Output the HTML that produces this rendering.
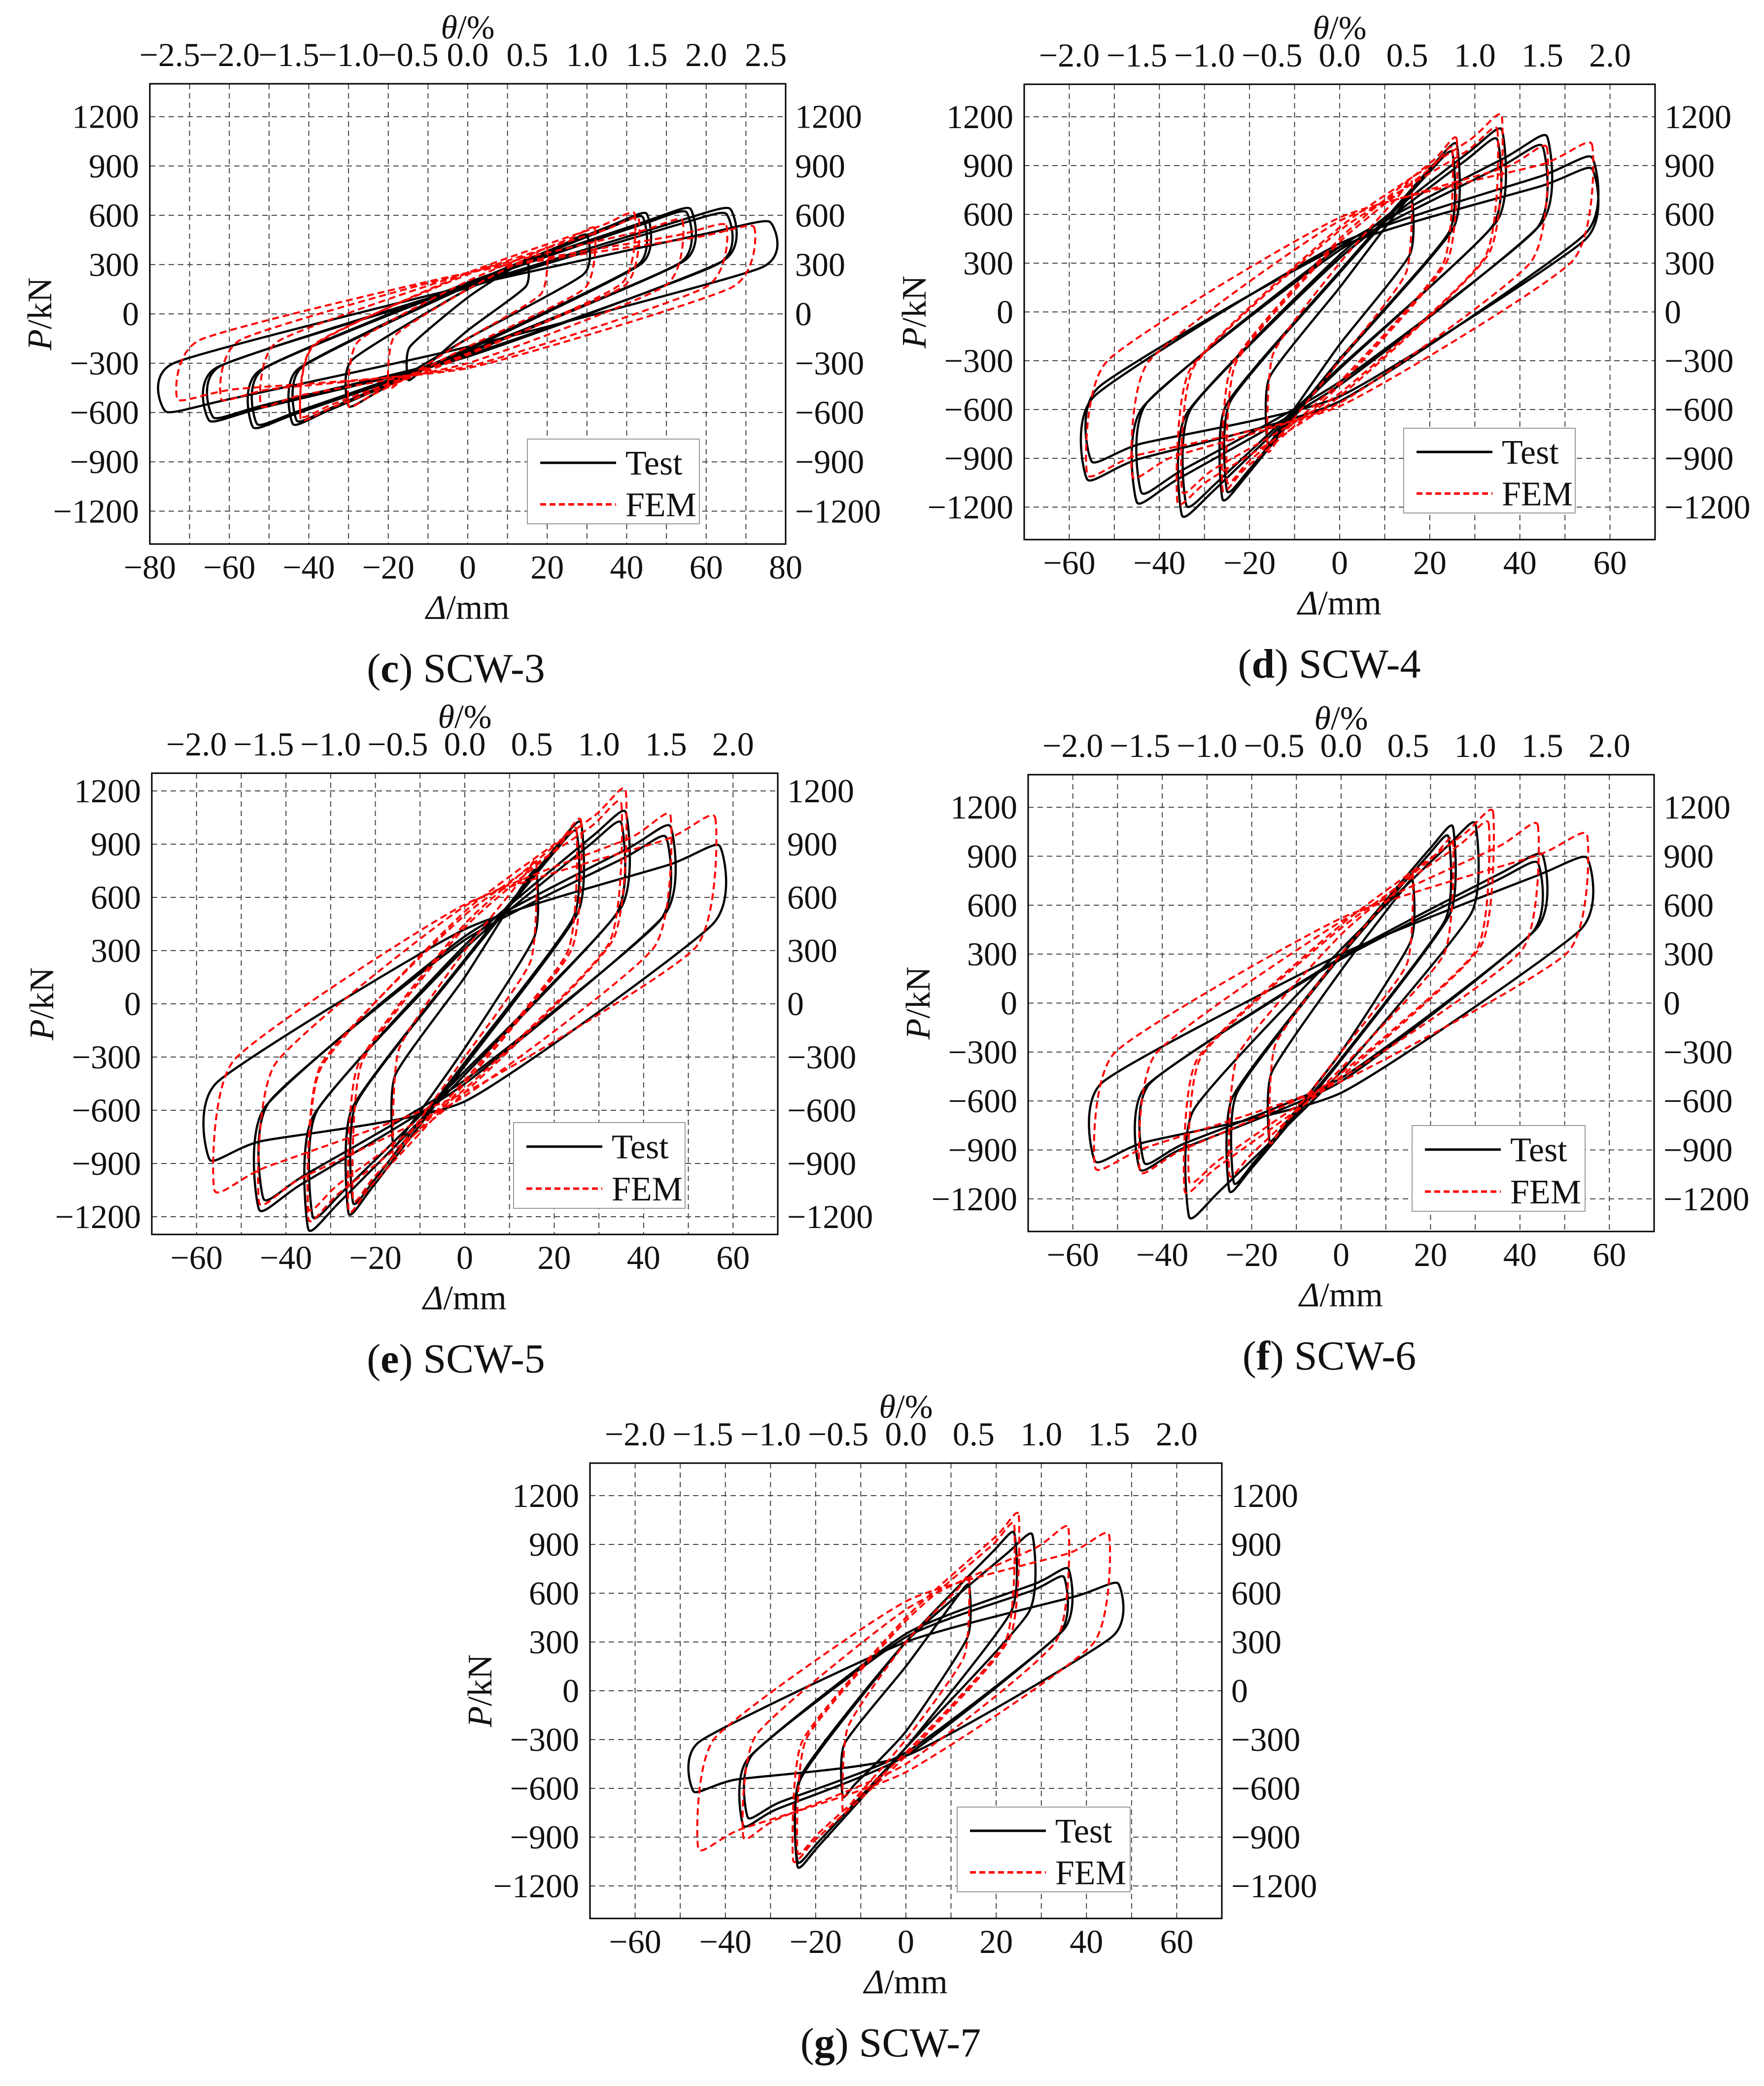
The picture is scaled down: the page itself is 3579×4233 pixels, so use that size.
<!DOCTYPE html>
<html><head><meta charset="utf-8"><title>Hysteresis curves SCW-3 to SCW-7</title>
<style>
html,body{margin:0;padding:0;background:#fff;}
svg{display:block;}
text{font-family:"Liberation Serif","DejaVu Serif",serif;fill:#111;}
</style></head>
<body>
<svg id="fig" xmlns="http://www.w3.org/2000/svg" width="3579" height="4233" viewBox="0 0 3579 4233"></svg>
<script>
// Loop data: each loop = [pos peak disp (mm), pos peak force (kN), neg peak disp, neg peak force, upper-branch force at 0, lower-branch force at 0]
const testC = [[15,330,-15,-400,100,-100],[30,480,-30,-560,150,-150],[44,590,-43,-650,170,-210],[45,610,-44,-670,180,-220],[55,620,-53,-670,180,-230],[56,640,-54,-690,190,-240],[66,640,-65,-650,170,-260],[65,610,-64,-630,160,-250],[76,560,-76,-594,170,-200]];
const femC  = [[20,400,-20,-450,150,-150],[32,520,-30,-560,200,-200],[42,610,-42,-640,250,-250],[43,580,-42,-620,240,-240],[54,570,-52,-560,250,-300],[65,540,-62,-520,250,-320],[72,530,-73,-520,250,-330]];
const testD = [[16,700,-16,-800,150,-200],[26,1030,-26,-1150,250,-300],[25,980,-25,-1100,240,-290],[36,1120,-35,-1250,350,-350],[35,1060,-34,-1190,330,-340],[46,1080,-45,-1170,400,-450],[45,1020,-44,-1110,380,-430],[56,950,-56,-1030,420,-550],[56,880,-55,-920,400,-520]];
const femD  = [[16,800,-16,-850,300,-300],[26,1060,-26,-1090,450,-450],[25,1000,-25,-1040,430,-430],[36,1200,-36,-1170,520,-520],[35,1120,-35,-1100,500,-500],[46,1010,-46,-1010,560,-560],[56,1030,-56,-1000,580,-580]];
const testE = [[16,750,-16,-800,150,-250],[26,1020,-26,-1180,250,-350],[25,970,-25,-1120,240,-330],[36,1080,-35,-1270,330,-400],[35,1020,-34,-1200,310,-380],[46,1000,-46,-1160,380,-450],[45,940,-45,-1100,360,-430],[57,890,-57,-880,420,-550]];
const femE  = [[16,800,-16,-850,300,-300],[26,1030,-26,-1160,450,-450],[25,980,-25,-1100,430,-430],[36,1200,-35,-1210,520,-500],[35,1130,-35,-1150,500,-480],[46,1060,-46,-1120,550,-520],[56,1050,-56,-1050,560,-500]];
const testF = [[16,750,-16,-850,200,-300],[25,1080,-25,-1150,300,-350],[24,1020,-24,-1100,290,-340],[30,1100,-34,-1310,330,-420],[45,910,-45,-1020,280,-480],[44,860,-44,-980,270,-460],[55,890,-55,-970,300,-550]];
const femF  = [[16,800,-16,-850,300,-300],[25,1000,-25,-1050,420,-400],[34,1170,-35,-1150,480,-450],[33,1100,-34,-1090,460,-430],[44,1090,-45,-1030,500,-460],[55,1030,-55,-1010,520,-480]];
const testG = [[14,650,-14,-650,150,-250],[24,970,-24,-1080,300,-350],[28,960,-24,-1050,300,-350],[36,750,-36,-830,350,-400],[35,700,-35,-780,330,-380],[47,660,-47,-620,300,-400]];
const femG  = [[14,700,-14,-750,300,-300],[25,1080,-25,-1040,450,-400],[24,1020,-24,-990,430,-380],[36,1000,-36,-900,500,-450],[45,960,-46,-970,550,-500]];
// Tick label arrays
const yTicks = [-1200,-900,-600,-300,0,300,600,900,1200];
const xTicksC = [-80,-60,-40,-20,0,20,40,60,80];
const xTicksOther = [-60,-40,-20,0,20,40,60];
const thetaC = [-2.5,-2.0,-1.5,-1.0,-0.5,0.0,0.5,1.0,1.5,2.0,2.5];
const thetaOther = [-2.0,-1.5,-1.0,-0.5,0.0,0.5,1.0,1.5,2.0];

const plots = [
 {id:'c',name:'SCW-3',L:304,R:1594,T:170,B:1104,xr:[-80,80],yr:[-1400,1400],xt:xTicksC,th:thetaC,grid:[-70,70],leg:[1070,891,1419,1063],cap:925,test:testC,fem:femC},
 {id:'d',name:'SCW-4',L:2078,R:3358,T:171,B:1095,xr:[-70,70],yr:[-1400,1400],xt:xTicksOther,th:thetaOther,grid:[-60,60],leg:[2848,869,3196,1041],cap:2697,test:testD,fem:femD},
 {id:'e',name:'SCW-5',L:308,R:1578,T:1569,B:2505,xr:[-70,70],yr:[-1300,1300],xt:xTicksOther,th:thetaOther,grid:[-60,60],leg:[1042,2278,1390,2452],cap:925,test:testE,fem:femE},
 {id:'f',name:'SCW-6',L:2086,R:3356,T:1572,B:2499,xr:[-70,70],yr:[-1400,1400],xt:xTicksOther,th:thetaOther,grid:[-60,60],leg:[2865,2284,3216,2458],cap:2697,test:testF,fem:femF},
 {id:'g',name:'SCW-7',L:1197,R:2479,T:2969,B:3893,xr:[-70,70],yr:[-1400,1400],xt:xTicksOther,th:thetaOther,grid:[-60,60],leg:[1942,3667,2293,3839],cap:1807,test:testG,fem:femG}
];

const NS='http://www.w3.org/2000/svg';
const svg=document.getElementById('fig');
function mk(tag,attrs,parent){const e=document.createElementNS(NS,tag);for(const k in attrs)e.setAttribute(k,attrs[k]);(parent||svg).appendChild(e);return e;}
function fmt(v,d){const s=d?Math.abs(v).toFixed(1):String(Math.abs(v));return (v<0?'\u2212':'')+s;}

function loopPts(l,fem){
  const [xp,yp,xn,yn,a,b]=l;
  const k=fem?0.08:0.03, u=fem?0.3:0.5;
  return [[xp,yp],[xp*(1-k),yp*u],[0,b],[xn*0.8,yn*0.88],[xn,yn],[xn*(1-k),yn*u],[0,a],[xp*0.8,yp*0.88]];
}
function pathFrom(pts){
  const n=pts.length,t=0.55;let d='M'+pts[0][0].toFixed(1)+','+pts[0][1].toFixed(1);
  for(let i=0;i<n;i++){
    const p0=pts[(i-1+n)%n],p1=pts[i],p2=pts[(i+1)%n],p3=pts[(i+2)%n];
    const c1=[p1[0]+(p2[0]-p0[0])/6*t,p1[1]+(p2[1]-p0[1])/6*t];
    const c2=[p2[0]-(p3[0]-p1[0])/6*t,p2[1]-(p3[1]-p1[1])/6*t];
    d+=' C'+c1[0].toFixed(1)+','+c1[1].toFixed(1)+' '+c2[0].toFixed(1)+','+c2[1].toFixed(1)+' '+p2[0].toFixed(1)+','+p2[1].toFixed(1);
  }
  return d+' Z';
}

plots.forEach(p=>{
  const g=mk('g',{});
  
  
  const sx=v=>p.L+(v-p.xr[0])/(p.xr[1]-p.xr[0])*(p.R-p.L);
  const sy=v=>p.B-(v-p.yr[0])/(p.yr[1]-p.yr[0])*(p.B-p.T);
  for(let x=p.grid[0];x<=p.grid[1];x+=10){
    const ln=mk('line',{x1:sx(x),x2:sx(x),y1:p.T,y2:p.B,stroke:'#444','stroke-width':2,'stroke-dasharray':'11,8'},g);
    
    
  }
  yTicks.forEach(v=>{
    const ln=mk('line',{x1:p.L,x2:p.R,y1:sy(v),y2:sy(v),stroke:'#444','stroke-width':2,'stroke-dasharray':'11,8'},g);
    
    
    const t1=mk('text',{x:p.L-22,y:sy(v)+23,'text-anchor':'end','font-size':68},g);t1.textContent=fmt(v);
    
    
    const t2=mk('text',{x:p.R+19,y:sy(v)+23,'text-anchor':'start','font-size':68},g);t2.textContent=fmt(v);
    
    
  });
  p.xt.forEach(v=>{
    const t=mk('text',{x:sx(v),y:p.B+70,'text-anchor':'middle','font-size':68},g);t.textContent=fmt(v);
    
    
  });
  p.th.forEach(v=>{
    const t=mk('text',{x:sx(v*30),y:p.T-36,'text-anchor':'middle','font-size':68},g);t.textContent=fmt(v,1);
    
    
  });
  p.test.forEach(l=>{
    const d=pathFrom(loopPts(l,false).map(q=>[sx(q[0]),sy(q[1])]));
    const e=mk('path',{d:d,fill:'none',stroke:'#000','stroke-width':4.5,'stroke-linejoin':'round'},g);
    
    
  });
  p.fem.forEach(l=>{
    const d=pathFrom(loopPts(l,true).map(q=>[sx(q[0]),sy(q[1])]));
    const e=mk('path',{d:d,fill:'none',stroke:'#f00','stroke-width':4,'stroke-dasharray':'14,8'},g);
    
    
  });
  const fr=mk('rect',{x:p.L,y:p.T,width:p.R-p.L,height:p.B-p.T,fill:'none',stroke:'#000','stroke-width':3},g);
  
  
  const cx=(p.L+p.R)/2;
  const tt=mk('text',{x:cx,y:p.T-92,'text-anchor':'middle','font-size':68},g);
  tt.innerHTML='<tspan font-style="italic">θ</tspan>/%';
  
  
  const xt=mk('text',{x:cx,y:p.B+152,'text-anchor':'middle','font-size':70},g);
  xt.innerHTML='<tspan font-style="italic">Δ</tspan>/mm';
  
  
  const ym=(p.T+p.B)/2, yx=p.L-200;
  const yt=mk('text',{x:yx,y:ym,'text-anchor':'middle','font-size':70,transform:'rotate(-90 '+yx+' '+ym+')'},g);
  yt.innerHTML='<tspan font-style="italic">P</tspan>/kN';
  
  
  const [lx1,ly1,lx2,ly2]=p.leg;
  const lg=mk('g',{},g);
  
  
  mk('rect',{x:lx1,y:ly1,width:lx2-lx1,height:ly2-ly1,fill:'#fff',stroke:'#999','stroke-width':2},lg);
  const h=ly2-ly1, y1=ly1+h*0.28, y2=ly1+h*0.77;
  const l1=mk('line',{x1:lx1+26,x2:lx1+180,y1:y1,y2:y1,stroke:'#000','stroke-width':5},lg);
  
  
  const t1=mk('text',{x:lx1+199,y:y1+24,'font-size':70},lg);t1.textContent='Test';
  
  
  const l2=mk('line',{x1:lx1+26,x2:lx1+180,y1:y2,y2:y2,stroke:'#f00','stroke-width':5,'stroke-dasharray':'12,7'},lg);
  
  
  const t2=mk('text',{x:lx1+199,y:y2+24,'font-size':70},lg);t2.textContent='FEM';
  
  
  const cap=mk('text',{x:p.cap,y:p.B+280,'text-anchor':'middle','font-size':84},g);
  cap.innerHTML='(<tspan font-weight="bold">'+p.id+'</tspan>) '+p.name;
  
  
});
</script>
</body></html>
